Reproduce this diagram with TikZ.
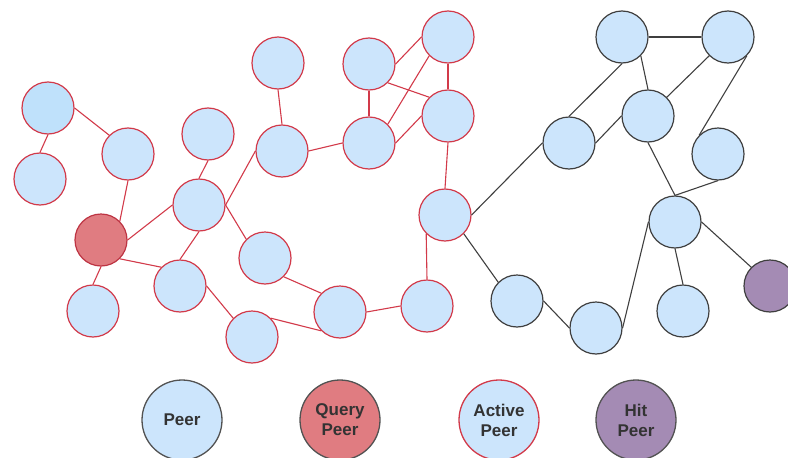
\documentclass[tikz,border=0pt]{standalone}
\usepackage{fontspec}
\setmainfont{Liberation Sans}
\definecolor{peerfill}{HTML}{CCE5FC}
\definecolor{peerfillA}{HTML}{BFE1FB}
\definecolor{queryfill}{HTML}{E07C81}
\definecolor{hitfill}{HTML}{A48BB4}
\definecolor{redline}{HTML}{D23A4A}
\definecolor{darkline}{HTML}{3F3F3F}
\definecolor{labeltext}{HTML}{333333}
\begin{document}
\begin{tikzpicture}[x=1pt,y=-1pt,
  nodebase/.style={circle,minimum size=52pt,inner sep=0pt,line width=1.2pt},
  active/.style={nodebase,fill=peerfill,draw=redline},
  plain/.style={nodebase,fill=peerfill,draw=darkline},
  query/.style={nodebase,fill=queryfill,draw=redline!90!black},
  hit/.style={nodebase,fill=hitfill,draw=darkline},
  redlink/.style={draw=redline,line width=1.1pt},
  darklink/.style={draw=darkline,line width=1.1pt},
  legendnode/.style={circle,minimum size=80pt,inner sep=0pt,line width=1.3pt,
    text=labeltext,font=\fontsize{17}{20}\selectfont\bfseries,align=center}]
\useasboundingbox (0,0) rectangle (788,458);

% flooded region (active peers and the query origin)
\node[active,fill=peerfillA] (a) at (48,108) {};
\node[active] (b) at (40,179) {};
\node[active] (c) at (128,154) {};
\node[query]  (q) at (101,240) {};
\node[active] (d) at (208,134) {};
\node[active] (e) at (199,205) {};
\node[active] (f) at (278,63) {};
\node[active] (g) at (282,151) {};
\node[active] (h) at (265,258) {};
\node[active] (i) at (180,286) {};
\node[active] (j) at (93,311) {};
\node[active] (k) at (252,337) {};
\node[active] (l) at (340,312) {};
\node[active] (m) at (427,306) {};
\node[active] (n) at (369,64) {};
\node[active] (o) at (448,37) {};
\node[active] (p) at (369,143) {};
\node[active] (r) at (448,116) {};
\node[active] (s) at (445,215) {};

% rest of the overlay
\node[plain] (t) at (622,37) {};
\node[plain] (u) at (728,37) {};
\node[plain] (v) at (648,116) {};
\node[plain] (w) at (569,143) {};
\node[plain] (x) at (718,154) {};
\node[plain] (y) at (675,222) {};
\node[plain] (z) at (517,301) {};
\node[plain] (aa) at (596,328) {};
\node[plain] (ab) at (683,311) {};
\node[hit]   (hp) at (770,286) {};

% query propagation links
\draw[redlink] (a.south) -- (b.north);
\draw[redlink] (a.east) -- (c.north west);
\draw[redlink] (c.south) -- (q.north east);
\draw[redlink] (q.east) -- (e.west);
\draw[redlink] (q.south east) -- (i.north west);
\draw[redlink] (q.south) -- (j.north);
\draw[redlink] (e.north) -- (d.south);
\draw[redlink] (e.south) -- (i.north);
\draw[redlink] (e.east) -- (g.west);
\draw[redlink] (e.east) -- (h.north west);
\draw[redlink] (i.east) -- (k.north west);
\draw[redlink] (h.south east) -- (l.north west);
\draw[redlink] (k.north east) -- (l.south west);
\draw[redlink] (l.east) -- (m.west);
\draw[redlink] (m.north) -- (s.south west);
\draw[redlink] (f.south) -- (g.north);
\draw[redlink] (g.east) -- (p.west);
\draw[redlink] (n.south) -- (p.north);
\draw[redlink] (n.east) -- (o.west);
\draw[redlink] (n.south east) -- (r.north west);
\draw[redlink] (p.north east) -- (o.south west);
\draw[redlink] (p.east) -- (r.west);
\draw[redlink] (o.south) -- (r.north);
\draw[redlink] (r.south) -- (s.north);

% ordinary links
\draw[darklink] (s.east) -- (w.west);
\draw[darklink] (s.south east) -- (z.north west);
\draw[darklink] (t.east) -- (u.west);
\draw[darklink] (t.south) -- (w.north);
\draw[darklink] (t.south east) -- (v.north);
\draw[darklink] (u.south west) -- (v.north east);
\draw[darklink] (u.south east) -- (x.north west);
\draw[darklink] (w.east) -- (v.west);
\draw[darklink] (v.south) -- (y.north);
\draw[darklink] (x.south) -- (y.north);
\draw[darklink] (y.west) -- (aa.east);
\draw[darklink] (y.south) -- (ab.north);
\draw[darklink] (y.east) -- (hp.north west);
\draw[darklink] (z.east) -- (aa.west);

% legend
\node[legendnode,fill=peerfill,draw=darkline!90] (lp) at (182,420) {Peer};
\node[legendnode,fill=queryfill,draw=darkline!90] (lq) at (340,420) {Query\\Peer};
\node[legendnode,fill=peerfill,draw=redline] (la) at (499,420) {Active\\Peer};
\node[legendnode,fill=hitfill,draw=darkline!90] (lh) at (636,420) {Hit\\Peer};
\end{tikzpicture}
\end{document}
